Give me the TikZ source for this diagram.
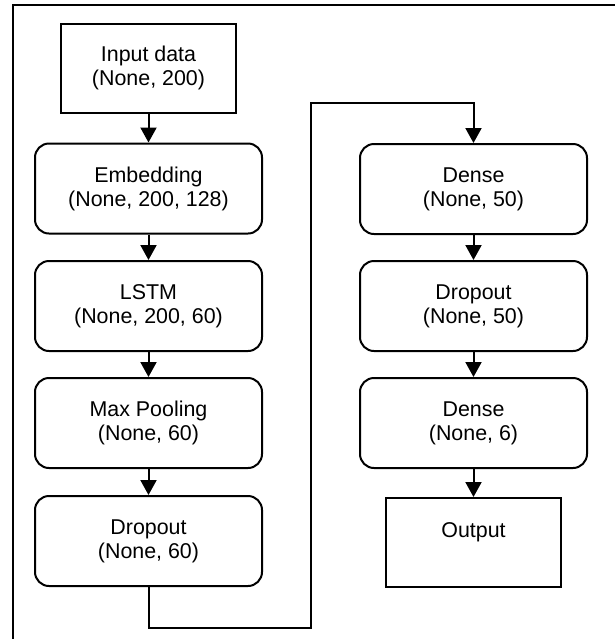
\documentclass[tikz,border=0pt]{standalone}
\usepackage{fontspec}
\setmainfont{Liberation Sans}
\usetikzlibrary{arrows.meta}

\tikzset{
  Layer/.style={draw, line width=1pt, rounded corners=7pt, align=center,
    minimum width=113.5pt, minimum height=45pt,
    font=\fontsize{10.7}{12}\selectfont},
  Data/.style={Layer, sharp corners, minimum width=87.5pt, minimum height=44.5pt},
  Flow/.style={line width=1pt, -{Triangle[length=7.5pt,width=8pt]}},
}

\begin{document}
\begin{tikzpicture}[x=0.5pt,y=-0.5pt]
  \useasboundingbox (0,0) rectangle (615,639);
  \draw[line width=1pt] (13,639) -- (13,5) -- (615,5);
  %
  \node[Data]  (Input)      at (148.5,68)  {Input data\\(None, 200)};
  \node[Layer] (Embedding)  at (148.5,188.5) {Embedding\\(None, 200, 128)};
  \node[Layer] (Lstm)       at (148.5,306) {LSTM\\(None, 200, 60)};
  \node[Layer] (MaxPooling) at (148.5,423) {Max Pooling\\(None, 60)};
  \node[Layer] (DropoutA)   at (148.5,541) {Dropout\\(None, 60)};
  %
  \node[Layer] (DenseA)     at (473.5,189) {Dense\\(None, 50)};
  \node[Layer] (DropoutB)   at (473.5,306) {Dropout\\(None, 50)};
  \node[Layer] (DenseB)     at (473.5,423) {Dense\\(None, 6)};
  \node[Data]  (Output)     at (473.5,542.5) {Output\\\mbox{}};
  %
  \draw[Flow] (Input) -- (Embedding);
  \draw[Flow] (Embedding) -- (Lstm);
  \draw[Flow] (Lstm) -- (MaxPooling);
  \draw[Flow] (MaxPooling) -- (DropoutA);
  \draw[Flow] (DenseA) -- (DropoutB);
  \draw[Flow] (DropoutB) -- (DenseB);
  \draw[Flow] (DenseB) -- (Output);
  % over to the second column
  \coordinate (Low)  at (311,628);
  \coordinate (High) at (311,103);
  \draw[Flow] (DropoutA.south) |- (Low) -- (High) -| (DenseA.north);
\end{tikzpicture}
\end{document}
